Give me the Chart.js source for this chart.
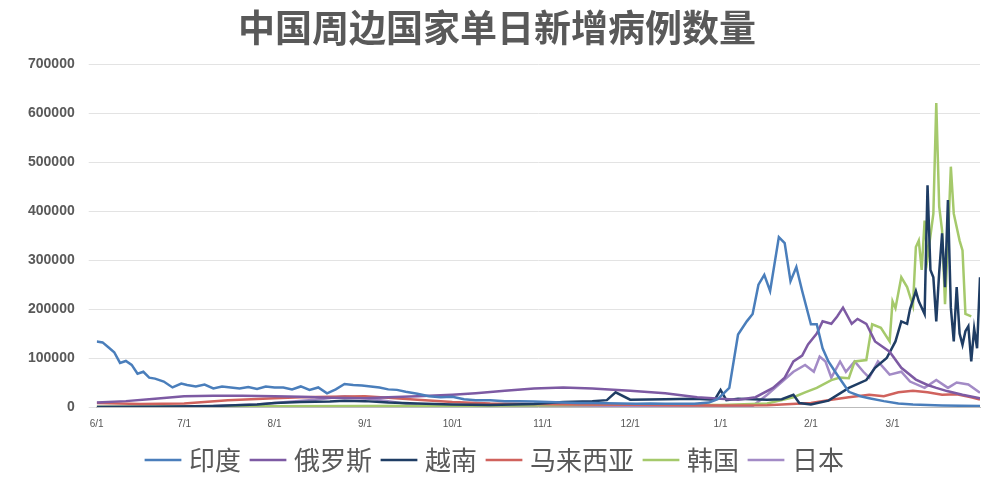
<!DOCTYPE html>
<html><head><meta charset="utf-8">
<script src="https://cdn.jsdelivr.net/npm/chart.js@4"></script>
<style>html,body{margin:0;background:#fff}#w{width:1000px;height:487px}</style>
</head><body><div id="w"><canvas id="c"></canvas></div>
<script>
// x = days since 6/1 (2021)
const monthTicks=[0,30,61,92,122,153,183,214,245,273];
const monthLabels=["6/1","7/1","8/1","9/1","10/1","11/1","12/1","1/1","2/1","3/1"];
const seriesNames=["印度","俄罗斯","越南","马来西亚","韩国","日本"];

const indiaDays=[0,2,4,6,8,10,12,14,16,18,20,23,26,29,31,34,37,40,43,46,49,52,55,58,61,64,67,70,73,76,79,82,85,88,91,94,97,100,103,106,110,114,118,122,126,130,135,140,145,150,155,160,165,170,175,180,185,190,195,200,205,210,213,217,220,223,225,227,229,231,234,236,238,240,242,245,247,249,251,254,258,262,265,270,275,280,290,303];
const indiaVals=[134000,132000,122000,112000,90000,94000,86000,68000,72000,60000,58000,52000,40000,48000,45000,42000,46000,38000,42000,40000,38000,41000,37000,42000,40000,40000,36000,42000,35000,40000,28000,36000,47000,45000,44000,42000,40000,36000,35000,31000,27000,22000,20000,21000,16000,14000,14000,12000,12000,11000,10000,9000,8000,8000,7500,7000,6500,7000,6800,6500,6800,9000,16000,39000,148000,175000,190000,250000,270000,237000,347000,335000,257000,286000,237000,169000,169000,120000,93000,66000,31000,22000,18000,12000,7000,5000,3000,2000];

const russiaDays=[0,10,20,30,40,50,61,70,80,92,100,110,122,130,140,150,160,170,183,195,206,214,220,226,232,236,239,242,244,247,249,252,254,256,259,261,264,267,272,276,281,285,288,292,297,303];
const russiaVals=[9000,12000,17000,22000,23000,23000,22000,21000,19000,18000,20000,22000,25000,28000,33000,38000,40000,38000,33000,28000,20000,17000,15000,20000,39000,60000,93000,105000,128000,150000,175000,170000,185000,203000,170000,180000,170000,134000,113000,80000,56000,45000,39000,32000,25000,18000];

const vietnamDays=[0,20,40,55,61,70,80,85,92,100,110,122,135,150,160,170,175,178,183,195,205,212,214,216,220,225,230,235,239,241,245,251,258,264,267,271,274,276,278,279,281,282,284,285,286,287,288,289,290,291,292,293,294,295,296,297,298,299,300,301,302,303];
const vietnamVals=[200,500,2000,5000,8000,10000,11000,13000,12000,9000,7000,5000,4000,6000,10000,12000,14000,30000,15000,16000,17000,15000,35000,14000,17000,16000,15000,16000,25000,8000,5000,13000,39000,55000,80000,100000,134000,175000,170000,200000,237000,216000,190000,453000,280000,265000,175000,275000,355000,245000,423000,203000,134000,245000,150000,127000,155000,165000,93000,160000,120000,265000];

const malaysiaDays=[0,15,30,45,61,70,80,92,100,110,122,135,150,165,183,200,214,230,245,252,258,265,270,275,280,285,290,295,300,303];
const malaysiaVals=[8000,6000,7000,14000,18000,20000,21000,22000,19000,15000,10000,7000,6000,5000,4500,3500,3000,3500,8000,15000,20000,25000,22000,30000,33000,30000,25000,26000,20000,15000];

const koreaDays=[0,61,122,150,183,214,230,239,243,247,252,255,258,260,264,266,269,272,273,274,276,278,280,281,282,283,284,285,287,288,289,290,291,292,293,294,296,297,298,300];
const koreaVals=[500,1500,2500,3000,5000,4000,7000,20000,30000,39000,55000,60000,59000,93000,96000,169000,162000,134000,216000,202000,265000,245000,207000,327000,340000,280000,381000,305000,395000,621000,410000,360000,210000,340000,491000,395000,340000,320000,190000,185000];

const japanDays=[0,40,55,65,75,85,92,100,110,122,150,183,214,225,230,234,239,243,246,248,250,252,255,257,260,263,265,268,272,276,279,284,288,292,295,299,303];
const japanVals=[0,2000,5000,10000,15000,22000,18000,12000,3000,1000,200,300,500,2000,25000,46000,72000,86000,72000,103000,93000,60000,93000,72000,93000,72000,60000,93000,66000,72000,52000,39000,55000,39000,50000,46000,29000];

const colors=["#4a7ebb","#7d5aa3","#1f3d64","#d0625d","#a5c96b","#a38bc6"];
const xs=[indiaDays,russiaDays,vietnamDays,malaysiaDays,koreaDays,japanDays];
const ys=[indiaVals,russiaVals,vietnamVals,malaysiaVals,koreaVals,japanVals];
const datasets=seriesNames.map((n,i)=>({label:n,data:xs[i].map((d,j)=>({x:d,y:ys[i][j]})),borderColor:colors[i],backgroundColor:colors[i],borderWidth:2.5,pointRadius:0,tension:0}));
new Chart(document.getElementById('c'),{type:'line',data:{datasets},
options:{responsive:true,maintainAspectRatio:false,animation:false,
layout:{padding:{left:14,right:20,top:0,bottom:4}},
plugins:{title:{display:true,text:"中国周边国家单日新增病例数量",font:{family:"Noto Sans CJK SC",size:37,weight:'bold'},color:'#595959',padding:{top:6,bottom:14}},
legend:{position:'bottom',labels:{usePointStyle:true,pointStyle:'line',boxWidth:40,font:{family:"Noto Sans CJK SC",size:26},color:'#595959',padding:14}},tooltip:{enabled:false}},
scales:{x:{type:'linear',min:0,max:303,afterBuildTicks:ax=>{ax.ticks=monthTicks.map(v=>({value:v}));},
ticks:{autoSkip:false,maxRotation:0,font:{size:10},color:'#555',callback:v=>monthLabels[monthTicks.indexOf(v)]},
grid:{display:false},border:{color:'#bbb'}},
y:{min:0,max:700000,ticks:{stepSize:100000,font:{size:14,weight:'bold'},color:'#595959',padding:14,callback:v=>String(v)},grid:{color:'#e3e3e3'},border:{display:false}}}}});
</script></body></html>
